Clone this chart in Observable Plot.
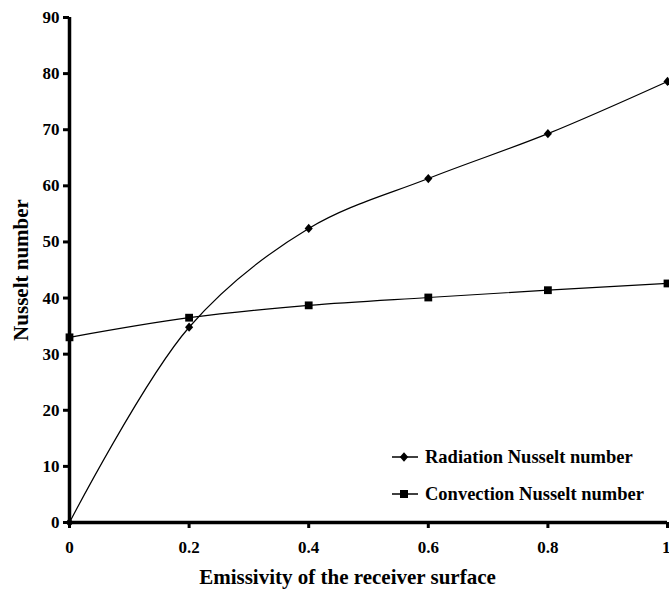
<!DOCTYPE html>
<html>
<head>
<meta charset="utf-8">
<script src="https://cdn.jsdelivr.net/npm/d3@7"></script>
<script src="https://cdn.jsdelivr.net/npm/@observablehq/plot@0.6"></script>
<style>
  html, body { margin: 0; padding: 0; background: #fff; }
  #wrap { position: relative; width: 669px; height: 592px; font-family: "Liberation Serif", "Times New Roman", serif; }
  #legend { position: absolute; left: 390px; top: 446px; font-weight: bold; font-size: 18.5px; color: #000; font-family: "Liberation Serif", serif; }
  .row { display: flex; align-items: center; height: 22px; margin-bottom: 15px; }
  .row svg { margin-right: 5px; }
</style>
</head>
<body>
<div id="wrap"></div>
<script>
const emissivity = [0, 0.2, 0.4, 0.6, 0.8, 1];
const radiationNu = [0, 34.8, 52.4, 61.3, 69.3, 78.6];
const convectionNu = [33.0, 36.5, 38.7, 40.1, 41.4, 42.6];
const xTicks = [0, 0.2, 0.4, 0.6, 0.8, 1];
const xTickLabels = ["0", "0.2", "0.4", "0.6", "0.8", "1"];
const yTicks = [0, 10, 20, 30, 40, 50, 60, 70, 80, 90];
const seriesNames = ["Radiation Nusselt number", "Convection Nusselt number"];

const rad = emissivity.map((x, i) => ({x, y: radiationNu[i]}));
const conv = emissivity.map((x, i) => ({x, y: convectionNu[i]}));

// a broad diamond like the reference markers
const wideDiamond = {
  draw(ctx, size) {
    const h = Math.sqrt(size) * 0.62, w = h * 0.88;
    ctx.moveTo(0, -h); ctx.lineTo(w, 0); ctx.lineTo(0, h); ctx.lineTo(-w, 0); ctx.closePath();
  }
};

const chart = Plot.plot({
  width: 669,
  height: 592,
  marginLeft: 69,
  marginRight: 2,
  marginTop: 17,
  marginBottom: 70,
  style: { fontFamily: "'Liberation Serif', serif", fontWeight: "bold", fontSize: "17px", color: "#000", background: "#fff" },
  x: { domain: [0, 1] },
  y: { domain: [0, 90] },
  marks: [
    Plot.line(rad, { x: "x", y: "y", curve: "catmull-rom", stroke: "#000", strokeWidth: 1.2 }),
    Plot.line(conv, { x: "x", y: "y", curve: "catmull-rom", stroke: "#000", strokeWidth: 1.2 }),
    Plot.dot(rad, { x: "x", y: "y", symbol: wideDiamond, r: 4.2, fill: "#000", stroke: "none" }),
    Plot.dot(conv, { x: "x", y: "y", symbol: "square", r: 4.4, fill: "#000", stroke: "none" }),
    Plot.ruleX([0], { stroke: "#000", strokeWidth: 3.5 }),
    Plot.ruleY([0], { stroke: "#000", strokeWidth: 3.5 }),
    Plot.axisY({ ticks: yTicks, tickSize: 6, tickPadding: 4, strokeWidth: 3,
      label: "Nusselt number", labelAnchor: "center", labelArrow: "none", labelOffset: 56 }),
    Plot.axisX({ ticks: xTicks, tickFormat: (d, i) => xTickLabels[i], tickSize: 6, tickPadding: 12, strokeWidth: 3,
      label: "Emissivity of the receiver surface", labelAnchor: "center", labelArrow: "none", labelOffset: 61 })
  ]
});

const wrap = document.getElementById("wrap");
wrap.appendChild(chart);

// enforce fonts directly on every text element
chart.querySelectorAll("text").forEach(t => {
  t.style.fontFamily = "'Liberation Serif', serif";
  t.style.fontWeight = "bold";
  t.style.fontSize = "17px";
  t.style.fill = "#000";
});
chart.querySelectorAll('g[aria-label="x-axis label"] text, g[aria-label="y-axis label"] text').forEach(t => {
  t.style.fontSize = "21px";
});
chart.querySelectorAll('g[aria-label="x-axis label"] text').forEach(t => t.setAttribute("dx", "-21"));

// keep last x tick label inside the picture, as in the reference
const xLabels = chart.querySelectorAll('g[aria-label="x-axis tick label"] text');
if (xLabels.length) {
  const last = xLabels[xLabels.length - 1];
  last.setAttribute("text-anchor", "end");
  last.setAttribute("dx", "3");
}

const legend = document.createElement("div");
legend.id = "legend";
const symbols = ["diamond", "square"];
seriesNames.forEach((name, i) => {
  const row = document.createElement("div");
  row.className = "row";
  const sym = symbols[i] === "diamond"
    ? '<path d="M14,2.3 L18.2,7 L14,11.7 L9.8,7 Z" fill="#000"/>'
    : '<rect x="10" y="3" width="8" height="8" fill="#000"/>';
  row.innerHTML = `<svg width="30" height="14"><line x1="2" y1="7" x2="28" y2="7" stroke="#000" stroke-width="1.5"/>${sym}</svg><span>${name}</span>`;
  legend.appendChild(row);
});
wrap.appendChild(legend);
</script>
</body>
</html>
